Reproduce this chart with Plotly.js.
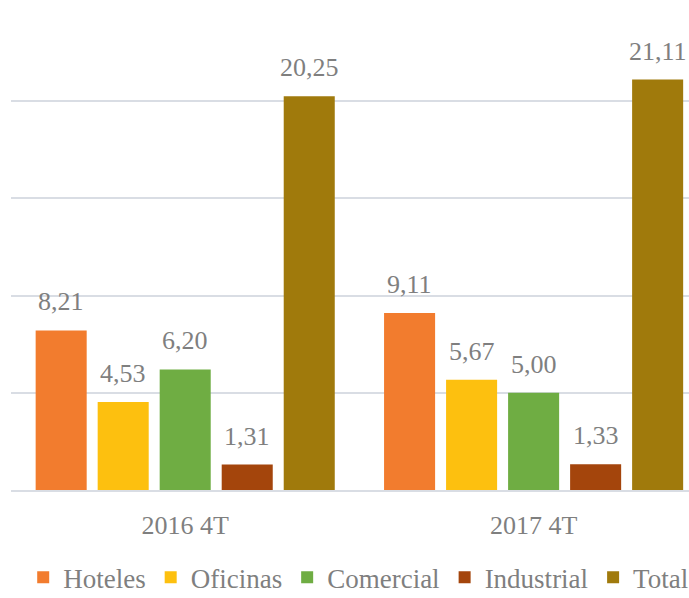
<!DOCTYPE html>
<html>
<head>
<meta charset="utf-8">
<script src="https://cdn.plot.ly/plotly-3.0.1.min.js"></script>
<style>html,body{margin:0;padding:0;background:#fff;overflow:hidden;}#chart{width:689px;height:598px;}</style>
</head>
<body>
<div id="chart"></div>
<script>
const categories = ['2016 4T', '2017 4T'];
const seriesNames = ['Hoteles', 'Oficinas', 'Comercial', 'Industrial', 'Total'];
const hoteles = [8.21, 9.11];
const oficinas = [4.53, 5.67];
const comercial = [6.20, 5.00];
const industrial = [1.31, 1.33];
const total = [20.25, 21.11];
const colors = ['#f27c2e', '#fdc00f', '#6fad43', '#a4450c', '#a07a0c'];

const values = [hoteles, oficinas, comercial, industrial, total];
const FONT = 'Liberation Serif';
const GRAY = '#7f7f7f';
const bargap = 0.11, bargroupgap = 0.177;

const traces = values.map((v, i) => ({
  type: 'bar', name: seriesNames[i], x: categories, y: v,
  marker: {color: colors[i], line: {width: 0}},
  hoverinfo: 'skip'
}));

const slot = (1 - bargap) / values.length;
const annotations = [];
values.forEach((v, i) => {
  v.forEach((val, j) => {
    annotations.push({
      x: j - (1 - bargap) / 2 + (i + 0.5) * slot, y: val,
      xref: 'x', yref: 'y', showarrow: false, yanchor: 'bottom', yshift: 12,
      text: val.toFixed(2).replace('.', ','),
      font: {family: FONT, size: 26, color: GRAY}
    });
  });
});

const layout = {
  width: 689, height: 598,
  margin: {l: 11, r: 0, t: 4, b: 108, autoexpand: false},
  paper_bgcolor: '#fff', plot_bgcolor: '#fff',
  barmode: 'group', bargap: bargap, bargroupgap: bargroupgap,
  font: {family: FONT, size: 26, color: GRAY},
  xaxis: {
    type: 'category', range: [-0.5, 1.446], showgrid: false,
    showline: true, linecolor: '#d9dde4', linewidth: 2,
    ticks: '', ticklabelstandoff: 11,
    tickfont: {family: FONT, size: 26, color: GRAY}
  },
  yaxis: {
    range: [0, 25], dtick: 5, showticklabels: false,
    gridcolor: '#d9dde4', gridwidth: 2, zeroline: false, showline: false
  },
  showlegend: true,
  legend: {
    orientation: 'h', x: 0.018, xanchor: 'left', y: -0.13, yanchor: 'top',
    font: {family: FONT, size: 27, color: GRAY}, itemwidth: 30, traceorder: 'normal'
  },
  annotations: annotations
};

Plotly.newPlot('chart', traces, layout, {displayModeBar: false, staticPlot: true});
</script>
</body>
</html>
